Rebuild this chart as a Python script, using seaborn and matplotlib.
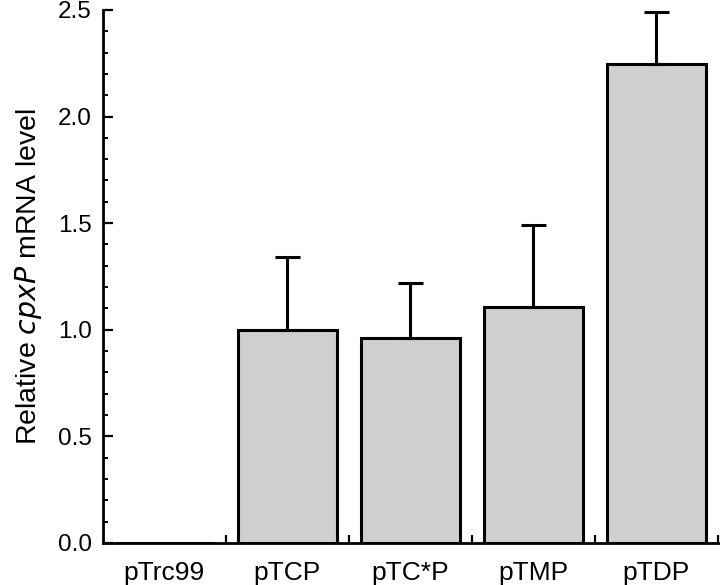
"""Relative cpxP mRNA level for each plasmid - bar chart with one-sided error bars."""

import numpy as np
import pandas as pd
import seaborn as sns
import matplotlib.pyplot as plt
from matplotlib.ticker import MultipleLocator

# Data
plasmids = ['pTrc99', 'pTCP', 'pTC*P', 'pTMP', 'pTDP']
levels = [0.0, 1.0, 0.96, 1.105, 2.245]
errors = [0.0, 0.34, 0.26, 0.385, 0.245]

df = pd.DataFrame({'plasmid': plasmids, 'level': levels, 'err': errors})

# Style - plain black on white
sns.set_style('ticks', {'axes.edgecolor': 'black', 'text.color': 'black',
                        'xtick.color': 'black', 'ytick.color': 'black',
                        'axes.labelcolor': 'black'})
plt.rcParams['font.family'] = ['Liberation Sans', 'DejaVu Sans']

fig = plt.figure(figsize=(7.2, 5.85), dpi=100)
ax = fig.add_axes([0.143, 0.072, 0.854, 0.911])

sns.barplot(data=df, x='plasmid', y='level', order=plasmids, color='#cfcfcf',
            saturation=1, width=0.8, edgecolor='black', linewidth=2.2,
            errorbar=None, ax=ax)

# One-sided (upper) error bars, placed on the bar centres
centres = [p.get_x() + p.get_width() / 2 for p in ax.patches]
for xc, lv, er in zip(centres, df['level'], df['err']):
    if er > 0:
        ax.errorbar(xc, lv, yerr=[[0], [er]], fmt='none', ecolor='black',
                    elinewidth=2.2, capsize=9, capthick=2.2, zorder=1)

# Axis limits and ticks
ax.set_xlim(-0.5, len(plasmids) - 0.5)
ax.set_ylim(0, 2.5)
ax.yaxis.set_major_locator(MultipleLocator(0.5))
ax.yaxis.set_minor_locator(MultipleLocator(0.1))
ax.set_yticklabels([f'{t:.1f}' for t in ax.get_yticks()])

ax.set_xticks(np.arange(len(plasmids)))
ax.set_xticklabels(plasmids)
ax.set_xticks(np.arange(len(plasmids)) + 0.5, minor=True)

ax.tick_params(axis='y', which='major', direction='in', length=7, width=1.6,
               labelsize=17.5, pad=8)
ax.tick_params(axis='y', which='minor', direction='in', length=3.5, width=1.4)
ax.tick_params(axis='x', which='major', length=0, labelsize=19, pad=13)
ax.tick_params(axis='x', which='minor', direction='in', length=6, width=1.6)

ax.set_xlabel('')
ax.set_ylabel(r'Relative $\it{cpxP}$ mRNA level', fontsize=20.5, labelpad=10)

# Spines
for side in ['top', 'right']:
    ax.spines[side].set_visible(False)
for side in ['left', 'bottom']:
    ax.spines[side].set_linewidth(2)

fig.savefig('out.png', dpi=100)
